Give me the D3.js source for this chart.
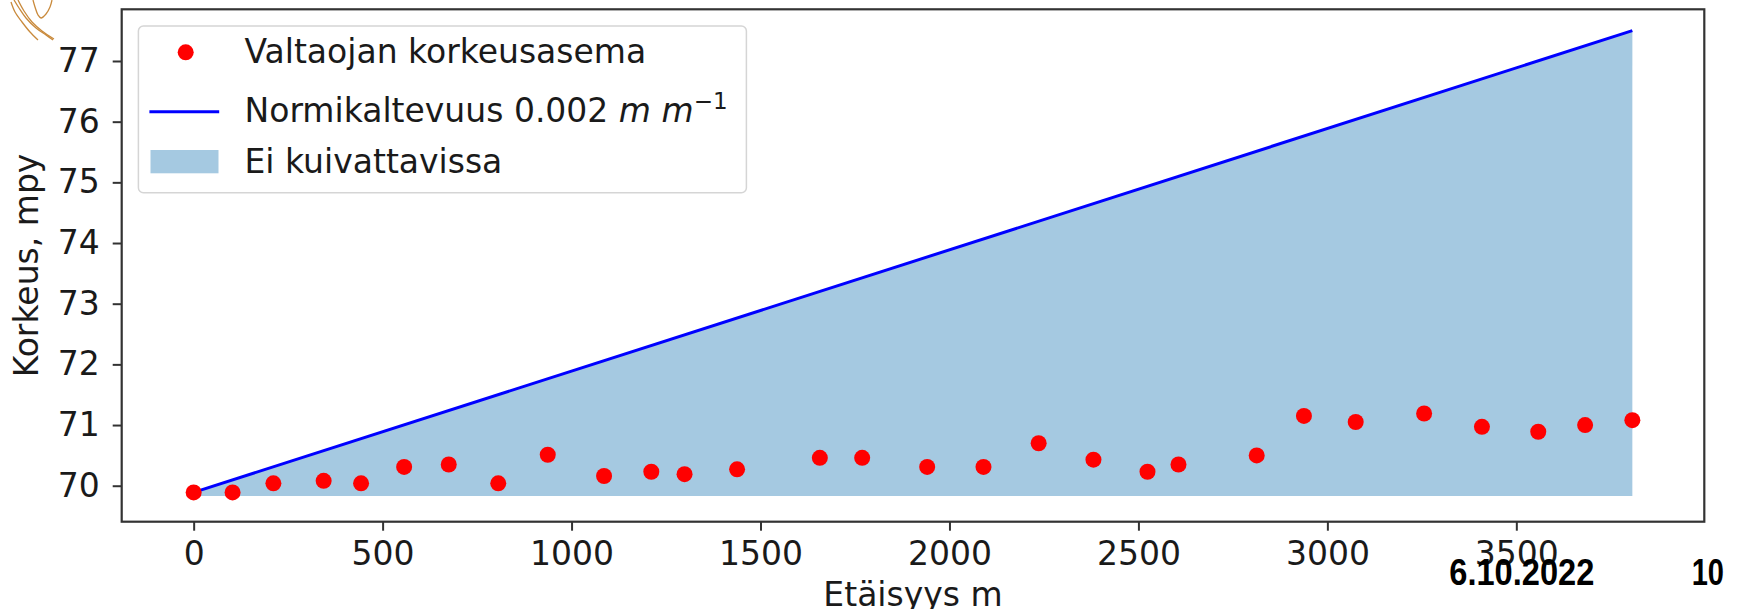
<!DOCTYPE html>
<html>
<head>
<meta charset="utf-8">
<script src="https://cdn.jsdelivr.net/npm/d3@7"></script>
<style>
   html, body { margin: 0; padding: 0; background: #fff; overflow: hidden; }
   svg text { font-family: "DejaVu Sans", sans-serif; fill: #1a1a1a; }
</style>
</head>
<body>
<svg id="chart" width="1751" height="609"></svg>
<script>
// DATA
var distance = [0, 103, 211, 344, 443, 557, 675, 806, 937, 1086, 1211, 1299, 1438, 1657, 1769,
   1941, 2090, 2236, 2381, 2524, 2606, 2813, 2938, 3075, 3256, 3409, 3558, 3682, 3807];
var elevation = [69.89, 69.89, 70.04, 70.08, 70.04, 70.31, 70.35, 70.04, 70.51, 70.16, 70.23, 70.19, 70.27, 70.46, 70.46,
   70.31, 70.31, 70.70, 70.43, 70.23, 70.35, 70.50, 71.15, 71.05, 71.19, 70.97, 70.89, 71.00, 71.08];
var normX = [0, 3807];
var normY = [69.89, 77.50];
var fillBottom = 69.83;
var xTicks = [0, 500, 1000, 1500, 2000, 2500, 3000, 3500];
var yTicks = [70, 71, 72, 73, 74, 75, 76, 77];
var legendLabels = ['Valtaojan korkeusasema', 'Normikaltevuus 0.002 ', 'Ei kuivattavissa'];

var svg = d3.select('#chart');

var bounds = {left: 121.7, right: 1704.3, top: 9.3, bottom: 521.7};
var fontSize = 33;

var x = d3.scaleLinear().domain([-190.4, 3997.4]).range([bounds.left, bounds.right]);
var y = d3.scaleLinear().domain([69.407, 77.852]).range([bounds.bottom, bounds.top]);

// decorative corner sketch (clipped logo at top-left)
var sketch = svg.append('g')
   .attr('fill', 'none')
   .attr('stroke', '#c98a3c')
   .attr('stroke-width', 1.3);
[
   [[14, 0], [19, 8], [26, 18], [36, 28], [46, 35], [53, 40]],
   [[18, 0], [24, 11], [32, 22], [42, 31], [54, 39]],
   [[33, 0], [35, 7], [38, 15], [41, 18], [46, 14], [50, 7], [52, 0]],
   [[11, 2], [15, 12], [22, 22], [30, 32], [38, 40]]
].forEach(function (pts) {
   sketch.append('path').attr('d', d3.line().curve(d3.curveCatmullRom)(pts));
});

// fill area (not drainable)
var area = d3.area()
   .x(function (d) { return x(d[0]); })
   .y0(y(fillBottom))
   .y1(function (d) { return y(d[1]); });

svg.append('path')
   .datum(d3.zip(normX, normY))
   .attr('d', area)
   .attr('fill', '#a5c9e1');

// norm slope line
svg.append('path')
   .datum(d3.zip(normX, normY))
   .attr('d', d3.line().x(function (d) { return x(d[0]); }).y(function (d) { return y(d[1]); }))
   .attr('fill', 'none')
   .attr('stroke', '#0000ff')
   .attr('stroke-width', 3);

// elevation points
svg.append('g').selectAll('circle')
   .data(d3.zip(distance, elevation))
   .enter().append('circle')
   .attr('cx', function (d) { return x(d[0]); })
   .attr('cy', function (d) { return y(d[1]); })
   .attr('r', 8)
   .attr('fill', '#ff0000');

// axes
var xAxis = svg.append('g')
   .attr('transform', 'translate(0,' + bounds.bottom + ')')
   .call(d3.axisBottom(x).tickValues(xTicks).tickFormat(d3.format('d')).tickSize(9).tickSizeOuter(0).tickPadding(11));

var yAxis = svg.append('g')
   .attr('transform', 'translate(' + bounds.left + ',0)')
   .call(d3.axisLeft(y).tickValues(yTicks).tickFormat(d3.format('d')).tickSize(9).tickSizeOuter(0).tickPadding(13));

[xAxis, yAxis].forEach(function (axis) {
   axis.select('.domain').remove();
   axis.selectAll('.tick line').attr('stroke', '#333').attr('stroke-width', 2);
   axis.selectAll('.tick text')
      .attr('fill', '#1a1a1a')
      .style('font-family', '"DejaVu Sans", sans-serif')
      .style('font-size', fontSize + 'px');
});

// spines
svg.append('rect')
   .attr('x', bounds.left)
   .attr('y', bounds.top)
   .attr('width', bounds.right - bounds.left)
   .attr('height', bounds.bottom - bounds.top)
   .attr('fill', 'none')
   .attr('stroke', '#333')
   .attr('stroke-width', 2.2);

// axis labels
svg.append('text')
   .attr('x', (bounds.left + bounds.right) / 2)
   .attr('y', 606)
   .attr('text-anchor', 'middle')
   .style('font-size', fontSize + 'px')
   .text('Etäisyys m');

svg.append('text')
   .attr('transform', 'translate(38,' + ((bounds.top + bounds.bottom) / 2) + ') rotate(-90)')
   .attr('text-anchor', 'middle')
   .style('font-size', fontSize + 'px')
   .text('Korkeus, mpy');

// legend
var legend = svg.append('g').attr('class', 'legend');

legend.append('rect')
   .attr('x', 138.4)
   .attr('y', 26)
   .attr('width', 608)
   .attr('height', 166.7)
   .attr('rx', 5)
   .attr('fill', '#fff')
   .attr('fill-opacity', 0.8)
   .attr('stroke', '#d5d5d5')
   .attr('stroke-width', 1.5);

var rowBaselines = [63, 121.5, 173];
var textX = 244.5;

legend.append('circle')
   .attr('cx', 185.7)
   .attr('cy', 52.3)
   .attr('r', 8)
   .attr('fill', '#ff0000');

legend.append('line')
   .attr('x1', 149.4)
   .attr('x2', 219.2)
   .attr('y1', 111.7)
   .attr('y2', 111.7)
   .attr('stroke', '#0000ff')
   .attr('stroke-width', 3);

legend.append('rect')
   .attr('x', 150.5)
   .attr('y', 150)
   .attr('width', 68)
   .attr('height', 23.3)
   .attr('fill', '#a5c9e1');

legendLabels.forEach(function (label, i) {
   var t = legend.append('text')
      .attr('x', textX)
      .attr('y', rowBaselines[i])
      .style('font-size', fontSize + 'px')
      .text(label);

   if (i === 1) {
      t.append('tspan').style('font-style', 'italic').text('m m');
      t.append('tspan')
         .attr('dy', -13)
         .style('font-size', Math.round(fontSize * 0.7) + 'px')
         .text('\u22121');
   }
});

// slide footer
svg.append('text')
   .attr('x', 1449.3)
   .attr('y', 585)
   .attr('textLength', 145)
   .attr('lengthAdjust', 'spacingAndGlyphs')
   .style('font-family', '"Liberation Sans Narrow", "Liberation Sans", sans-serif')
   .style('font-weight', 'bold')
   .style('font-size', '36px')
   .style('fill', '#000')
   .text('6.10.2022');

svg.append('text')
   .attr('x', 1691.7)
   .attr('y', 585)
   .attr('textLength', 32.3)
   .attr('lengthAdjust', 'spacingAndGlyphs')
   .style('font-family', '"Liberation Sans Narrow", "Liberation Sans", sans-serif')
   .style('font-weight', 'bold')
   .style('font-size', '36px')
   .style('fill', '#000')
   .text('10');
</script>
</body>
</html>
